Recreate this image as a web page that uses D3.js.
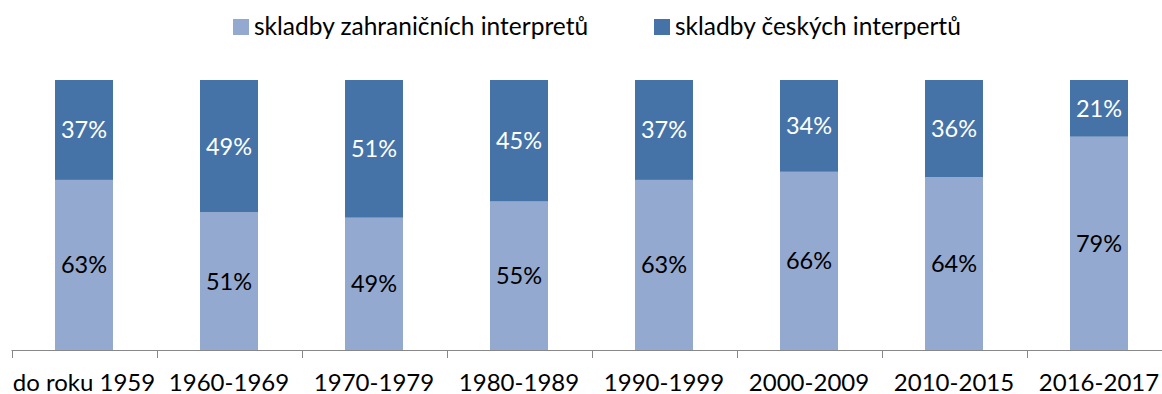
<!DOCTYPE html>
<html>
<head>
<meta charset="utf-8">
<script src="https://cdn.jsdelivr.net/npm/d3@7"></script>
<style>
  html, body { margin: 0; padding: 0; background: #fff; }
  svg { display: block; font-family: Lato, "Open Sans", sans-serif; }
</style>
</head>
<body>
<svg id="chart" width="1162" height="394"></svg>
<script>
// Decades / periods on the x axis
const categories = ["do roku 1959", "1960-1969", "1970-1979", "1980-1989", "1990-1999", "2000-2009", "2010-2015", "2016-2017"];
// Share of songs by foreign performers (%)
const foreign = [63, 51, 49, 55, 63, 66, 64, 79];
// Share of songs by Czech performers (%)
const czech = [37, 49, 51, 45, 37, 34, 36, 21];
const seriesNames = ["skladby zahraničních interpretů", "skladby českých interpertů"];
const colors = ["#94a9d0", "#4573a7"];
const labelColors = ["#000000", "#ffffff"];

const svg = d3.select("#chart");
const plot = { left: 11.5, right: 1171.5, top: 80, bottom: 350 };

const x = d3.scaleBand().domain(categories).range([plot.left, plot.right]).paddingInner(0.6).paddingOuter(0.3);
const y = d3.scaleLinear().domain([0, 100]).range([plot.bottom, plot.top]);

const rows = categories.map((c, i) => ({ cat: c, foreign: foreign[i], czech: czech[i] }));
const layers = d3.stack().keys(["foreign", "czech"])(rows);

const g = svg.append("g");
layers.forEach((layer, li) => {
  const lg = g.append("g");
  lg.selectAll("rect").data(layer).join("rect")
    .attr("x", d => x(d.data.cat))
    .attr("width", x.bandwidth())
    .attr("y", d => y(d[1]))
    .attr("height", d => y(d[0]) - y(d[1]))
    .attr("fill", colors[li]);
  lg.selectAll("text").data(layer).join("text")
    .attr("x", d => x(d.data.cat) + x.bandwidth() / 2)
    .attr("y", d => (y(d[0]) + y(d[1])) / 2)
    .attr("dy", "0.36em")
    .attr("text-anchor", "middle")
    .attr("font-size", 23.5)
    .attr("fill", labelColors[li])
    .text(d => (d[1] - d[0]) + "%");
});

// Category axis with ticks between the groups
const edges = d3.scaleLinear().domain([0, categories.length]).range([plot.left, plot.right]);
const axis = svg.append("g").attr("transform", `translate(0,${plot.bottom})`);
axis.append("line")
  .attr("x1", plot.left).attr("x2", plot.right)
  .attr("y1", 0.5).attr("y2", 0.5)
  .attr("stroke", "#888888").attr("stroke-width", 1);
axis.selectAll("line.tick").data(d3.range(categories.length + 1)).join("line")
  .attr("class", "tick")
  .attr("x1", d => Math.round(edges(d)) + 0.5).attr("x2", d => Math.round(edges(d)) + 0.5)
  .attr("y1", 0.5).attr("y2", 8)
  .attr("stroke", "#888888");
axis.selectAll("text").data(categories).join("text")
  .attr("x", d => x(d) + x.bandwidth() / 2)
  .attr("y", 41)
  .attr("text-anchor", "middle")
  .attr("font-size", 24)
  .attr("fill", "#000")
  .text(d => d);

// Legend
const legendX = [233, 654];
const legend = svg.append("g");
seriesNames.forEach((name, i) => {
  legend.append("rect")
    .attr("x", legendX[i]).attr("y", 19)
    .attr("width", 16).attr("height", 16)
    .attr("fill", colors[i]);
  legend.append("text")
    .attr("x", legendX[i] + 21).attr("y", 35)
    .attr("font-size", 24.5)
    .attr("fill", "#000")
    .text(name);
});
</script>
</body>
</html>
